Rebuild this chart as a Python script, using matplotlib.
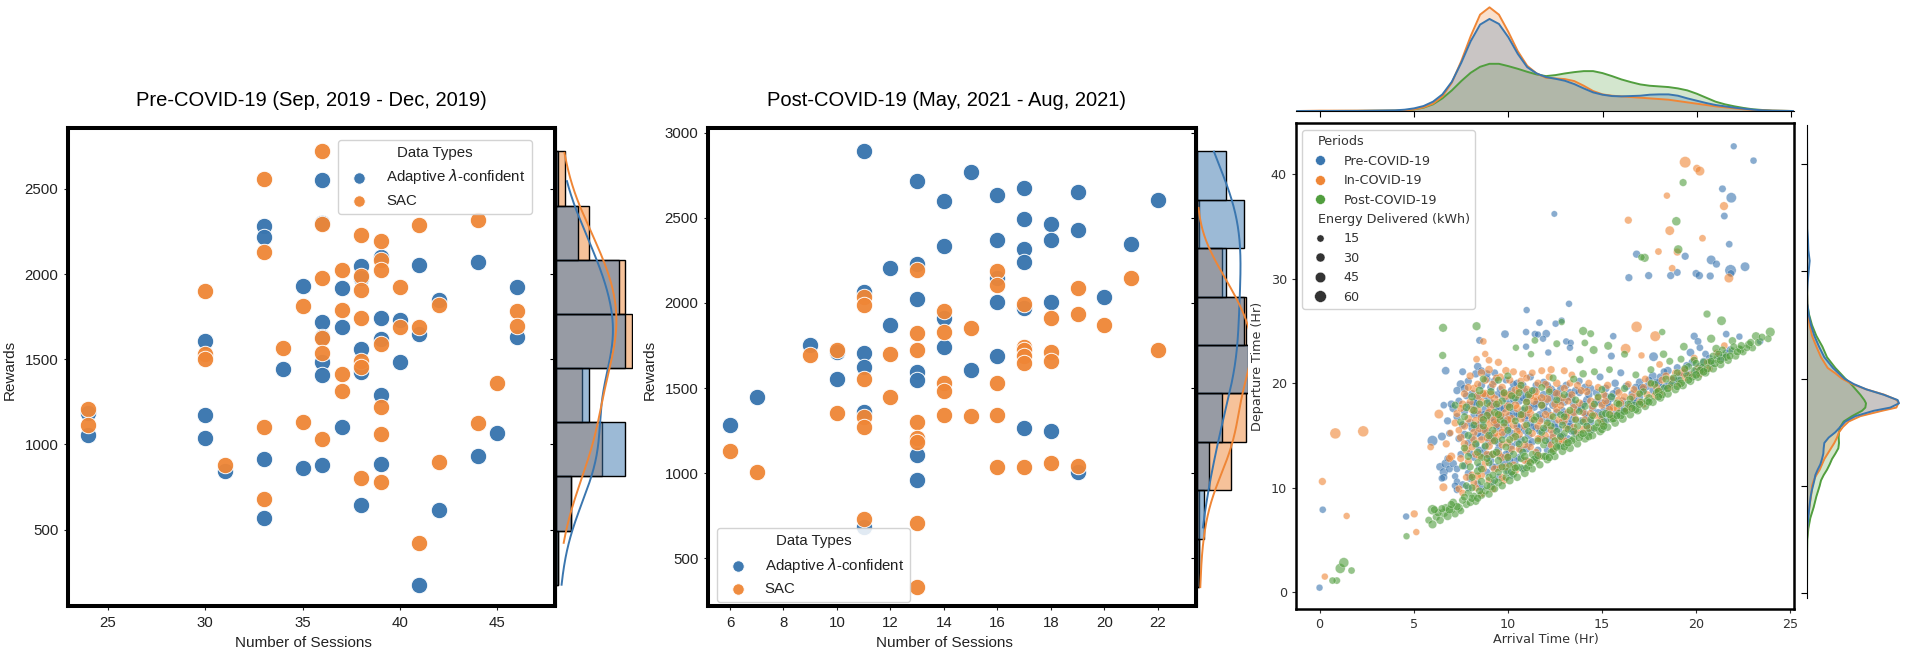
import numpy as np
import matplotlib
matplotlib.use("Agg")
import matplotlib.pyplot as plt
from matplotlib.lines import Line2D
from matplotlib.offsetbox import VPacker
from matplotlib.colors import to_rgba

W, H = 1906, 656
BLUE, ORANGE, GREEN = "#3a76af", "#ef8636", "#519e3e"
HELV = ["Liberation Sans", "DejaVu Sans"]

# Pre-COVID-19 panel
pre_blue_x = [24, 24, 30, 30, 30, 31, 33, 33, 33, 33, 34, 35, 35, 36, 36, 36, 36, 36, 36, 36, 37, 37, 37,
              38, 38, 38, 38, 38, 39, 39, 39, 39, 39, 40, 40, 41, 41, 41, 42, 42, 44, 44, 45, 46, 46]
pre_blue_y = [1182, 1054, 1606, 1172, 1039, 846, 2285, 2218, 916, 567, 1445, 1928, 862, 2554, 2300, 1718, 1628, 1483, 1405, 880, 1921, 1687, 1101,
              2046, 1975, 1561, 1427, 647, 2098, 1745, 1617, 1293, 884, 1729, 1481, 2053, 1651, 176, 1847, 616, 2071, 934, 1065, 1923, 1631]
pre_orange_x = [24, 24, 30, 30, 30, 31, 33, 33, 33, 33, 34, 35, 35, 36, 36, 36, 36, 36, 36, 37, 37, 37, 37,
                38, 38, 38, 38, 38, 38, 38, 39, 39, 39, 39, 39, 39, 39, 40, 40, 41, 41, 41, 42, 42, 44, 44, 45, 46, 46]
pre_orange_y = [1206, 1115, 1903, 1528, 1503, 880, 2556, 2127, 1105, 681, 1568, 1814, 1130, 2721, 2294, 1975, 1622, 1537, 1030, 2026, 1792, 1412, 1316,
                2230, 1986, 1908, 1745, 1488, 1454, 801, 2192, 2082, 2024, 1590, 1222, 1059, 779, 1923, 1689, 2290, 1691, 422, 1818, 898, 2319, 1126, 1360, 1783, 1698]
pre_hist_blue = [1, 7, 32, 15, 32, 29, 10, 1]
pre_hist_orange = [1, 7, 21, 12, 35, 32, 15, 4]

# Post-COVID-19 panel
post_blue_x = [6, 7, 9, 10, 10, 11, 11, 11, 11, 11, 11, 12, 12, 13, 13, 13, 13, 13, 13, 13, 14, 14, 14, 14,
               15, 15, 16, 16, 16, 16, 16, 17, 17, 17, 17, 17, 17, 18, 18, 18, 18, 19, 19, 19, 20, 21, 22]
post_blue_y = [1284, 1448, 1752, 1554, 1714, 2892, 2065, 1707, 1626, 1360, 680, 2203, 1872, 2716, 2232, 2023, 1597, 1545, 1104, 959, 2601, 2338, 1912, 1743,
               2768, 1608, 2637, 2372, 2149, 2007, 1691, 2676, 2491, 2320, 2243, 1973, 1266, 2462, 2372, 2005, 1250, 2651, 2430, 1005, 2036, 2347, 2606]
post_orange_x = [6, 7, 9, 10, 10, 11, 11, 11, 11, 11, 11, 12, 12, 13, 13, 13, 13, 13, 13, 13, 13, 14, 14, 14, 14, 14,
                 15, 15, 16, 16, 16, 16, 16, 17, 17, 17, 17, 17, 17, 18, 18, 18, 18, 19, 19, 19, 20, 21, 22]
post_orange_y = [1131, 1005, 1694, 1721, 1354, 2036, 1991, 1550, 1327, 1273, 730, 1700, 1446, 2191, 1822, 1721, 1302, 1207, 1180, 705, 329, 1950, 1831, 1529, 1484, 1340,
                 1851, 1333, 2187, 2104, 1527, 1340, 1036, 1995, 1743, 1721, 1691, 1646, 1034, 1914, 1709, 1660, 1059, 2090, 1935, 1041, 1872, 2149, 1723]
post_hist_blue = [1, 3, 5, 10, 22, 19, 12, 19, 12]
post_hist_orange = [1, 1, 14, 20, 21, 20, 10, 1, 0]

# Charging sessions: (arrival hr, departure hr, energy kWh), estimated by eye
sessions_pre = [
    (0.0, 0.44, 8), (0.17, 7.9, 9), (4.6, 7.25, 8), (12.47, 36.2, 5), (22.0, 42.67, 7), (23.05, 41.3, 9), (21.4, 38.6, 12),
    (21.87, 37.75, 38), (21.5, 36.0, 11), (21.76, 33.3, 10), (16.84, 32.35, 15), (19.42, 32.15, 14), (20.8, 31.8, 28),
    (21.08, 31.4, 14), (22.6, 31.15, 28), (21.83, 30.8, 50), (16.43, 30.1, 14), (17.48, 30.3, 14), (18.65, 30.3, 14),
    (19.0, 30.6, 12), (20.0, 30.5, 14), (20.17, 30.3, 16), (20.75, 30.26, 14), (21.85, 30.5, 12),
    (11.0, 27.0, 8), (13.25, 27.6, 8), (11.68, 25.8, 10), (12.54, 25.7, 9), (12.86, 26.0, 7), (8.5, 24.1, 12), (9.85, 24.7, 18),
    (10.97, 24.9, 9), (11.44, 24.7, 10), (11.6, 24.66, 8), (12.04, 24.74, 18), (11.87, 24.26, 8), (13.1, 24.0, 8), (13.34, 23.86, 8),
    (13.3, 23.4, 8), (10.97, 23.5, 8), (12.15, 22.94, 8), (15.6, 24.5, 9), (15.5, 22.6, 12), (17.74, 22.54, 28), (19.9, 24.5, 14),
    (20.1, 24.0, 12), (21.6, 24.7, 10), (22.3, 24.46, 8), (21.8, 23.2, 12), (20.2, 23.4, 10), (19.7, 22.94, 18), (23.4, 24.0, 8), (20.5, 22.8, 10),
    (6.0, 14.5, 40), (6.5, 14.9, 20), (6.4, 12.0, 18), (6.6, 11.5, 22), (6.7, 12.3, 25), (6.6, 11.0, 14), (6.5, 10.9, 10), (6.9, 11.8, 12),
    (6.8, 12.8, 9), (7.1, 12.3, 16), (7.3, 11.8, 10), (7.2, 11.1, 8), (7.3, 10.6, 8), (7.2, 10.2, 10), (7.6, 10.3, 12), (7.9, 10.0, 12),
    (8.0, 10.9, 14), (8.4, 10.4, 9), (6.6, 17.9, 10), (6.8, 16.4, 14), (6.9, 15.2, 10), (7.1, 17.6, 18), (7.3, 16.8, 14), (7.4, 18.3, 12),
    (7.0, 18.0, 16), (7.5, 19.9, 22), (7.3, 19.3, 15), (7.7, 19.5, 18), (7.9, 20.2, 14), (8.3, 20.9, 16), (8.4, 21.6, 16), (8.6, 21.2, 12),
    (7.6, 21.1, 12), (6.7, 21.2, 18), (8.1, 19.0, 14), (8.4, 18.6, 20), (8.6, 19.8, 15), (8.9, 20.4, 12), (9.1, 19.6, 15), (9.3, 20.2, 18),
    (9.0, 18.3, 18), (9.4, 18.9, 12), (8.8, 17.5, 20), (8.2, 17.0, 12), (8.6, 16.2, 18), (9.1, 16.7, 14), (9.6, 17.5, 22), (9.9, 18.5, 14),
    (10.2, 19.3, 16), (10.5, 20.0, 14), (10.9, 19.2, 18), (11.2, 20.6, 12), (11.5, 19.8, 12), (11.9, 18.9, 18), (12.3, 19.4, 20), (12.7, 18.9, 18),
    (13.1, 19.8, 14), (13.4, 18.6, 15), (13.8, 19.1, 12), (14.2, 18.4, 18), (14.4, 19.5, 14), (14.9, 20.6, 12), (15.2, 18.8, 10), (15.7, 20.0, 16),
    (16.0, 21.0, 12), (15.1, 17.4, 12), (15.7, 17.1, 10), (16.1, 18.3, 14), (16.6, 19.0, 12), (17.0, 20.1, 16), (17.4, 19.7, 14), (17.7, 20.7, 18),
    (18.1, 20.6, 14), (18.5, 21.2, 18), (19.0, 21.5, 12), (18.2, 19.6, 12), (18.8, 20.3, 16), (19.4, 21.0, 14), (19.8, 22.0, 16), (20.2, 21.6, 14),
    (20.7, 22.4, 12), (21.2, 22.6, 14), (21.6, 22.9, 12), (8.9, 15.4, 12), (9.2, 14.8, 18), (9.5, 15.7, 14), (9.9, 16.3, 20), (10.2, 15.2, 18),
    (10.4, 16.8, 16), (10.8, 17.4, 14), (10.5, 14.3, 12), (10.9, 15.5, 18), (11.2, 16.2, 12), (11.4, 17.7, 14), (11.8, 16.6, 16), (12.1, 17.3, 18),
    (12.5, 16.2, 14), (12.9, 17.4, 12), (13.2, 16.1, 16), (13.5, 17.0, 12), (13.9, 16.4, 14), (14.2, 16.8, 16), (8.3, 14.1, 14), (8.7, 13.3, 16),
    (9.1, 12.6, 12), (9.5, 13.7, 14), (9.8, 12.4, 18), (10.1, 13.4, 14), (10.6, 12.9, 12), (8.5, 12.0, 14), (8.2, 12.9, 12), (11.1, 14.2, 14),
    (11.6, 13.6, 12), (12.2, 14.6, 14), (12.8, 15.0, 12), (13.4, 15.4, 14), (8.1, 15.7, 14), (7.9, 14.3, 12), (8.0, 13.3, 10),
    (7.4, 14.7, 12), (7.6, 16.0, 16), (7.7, 17.3, 14), (7.8, 18.8, 12), (7.5, 13.2, 10), (7.7, 12.1, 14), (7.9, 11.4, 12), (8.1, 14.8, 14), (8.3, 15.9, 16),
    (8.3, 17.9, 18), (8.5, 13.6, 12), (8.6, 14.9, 18), (8.7, 17.0, 14), (8.8, 18.8, 12), (8.9, 20.9, 14), (8.9, 11.5, 10), (9.0, 13.1, 16), (9.1, 15.0, 14),
    (9.2, 18.0, 22), (9.3, 16.3, 18), (9.3, 21.0, 12), (9.4, 12.0, 12), (9.5, 14.3, 16), (9.6, 19.4, 14), (9.7, 16.8, 12), (9.8, 15.1, 18), (9.9, 20.3, 10),
    (9.9, 13.2, 14), (10.0, 11.6, 10), (10.1, 18.0, 16), (10.2, 14.0, 12), (10.3, 17.2, 20), (10.3, 19.9, 14), (10.4, 12.6, 14), (10.6, 18.3, 18), (10.6, 15.7, 16),
    (10.7, 13.6, 14), (10.8, 19.8, 14), (10.9, 16.6, 12), (11.0, 12.6, 10), (11.0, 18.6, 20), (11.1, 15.0, 18), (11.2, 17.8, 16), (11.3, 14.4, 14), (11.4, 19.3, 18),
    (11.5, 15.7, 12), (11.6, 18.3, 18), (11.7, 17.0, 14), (11.8, 14.7, 12), (11.9, 20.1, 12), (12.0, 15.6, 16), (12.0, 18.2, 18), (12.2, 16.6, 14), (12.3, 18.6, 20),
    (12.4, 15.2, 12), (12.5, 19.1, 16), (12.6, 17.2, 14), (12.7, 15.6, 14), (12.8, 19.5, 12), (12.9, 16.3, 12), (13.0, 18.2, 16), (13.1, 17.0, 14), (13.2, 14.7, 12),
    (13.3, 19.1, 16), (13.4, 16.5, 14), (13.5, 18.0, 18), (13.6, 15.2, 10), (13.7, 17.5, 14), (13.8, 20.2, 10), (14.0, 18.0, 16), (14.1, 17.1, 14), (14.2, 15.9, 12),
    (14.3, 18.9, 16), (14.5, 17.6, 16), (14.7, 19.1, 14), (14.8, 17.2, 12), (15.0, 18.1, 18), (15.2, 19.5, 16), (15.4, 17.7, 12), (15.5, 18.6, 20), (15.8, 19.3, 14),
    (16.0, 17.3, 12), (16.3, 19.7, 18), (16.5, 18.0, 12), (16.8, 19.6, 16), (17.0, 18.7, 14), (17.2, 19.4, 20), (17.5, 20.3, 14), (17.7, 19.3, 12), (18.0, 20.0, 16),
    (18.3, 21.1, 12), (18.6, 19.9, 12), (19.1, 20.7, 14), (19.5, 21.7, 12), (20.0, 21.2, 14), (20.4, 22.1, 12), (20.8, 21.9, 12), (21.4, 22.4, 14), (7.3, 9.8, 10),
    (8.6, 10.0, 10), (9.2, 10.5, 12), (9.5, 11.0, 10), (10.2, 11.2, 12), (10.8, 11.8, 10), (11.5, 12.9, 12), (12.1, 13.6, 12), (12.8, 14.0, 12), (14.4, 15.5, 12),
    (15.2, 16.4, 12), (16.8, 18.1, 12),
    (7.7, 15.1, 16), (7.9, 17.9, 14), (8.0, 16.2, 18), (8.2, 18.2, 16), (8.4, 15.2, 12), (8.5, 17.0, 18), (8.7, 15.6, 16), (8.8, 13.9, 14), (9.0, 14.4, 16), (9.0, 17.1, 18),
    (9.2, 12.0, 14), (9.4, 17.7, 16), (9.4, 15.9, 14), (9.6, 13.0, 14), (9.7, 18.9, 18), (9.8, 17.6, 18), (10.0, 15.7, 16), (10.1, 16.9, 14), (10.1, 12.6, 16), (10.3, 18.5, 18),
    (10.5, 15.9, 14), (10.6, 17.0, 18), (10.7, 14.6, 16), (10.8, 18.6, 14), (11.0, 13.7, 14), (11.0, 16.9, 16), (11.2, 19.0, 14), (11.3, 15.8, 18), (11.5, 18.0, 14), (11.7, 15.4, 14),
    (11.9, 17.6, 18), (12.1, 19.8, 14), (12.2, 14.2, 12), (12.4, 17.9, 18), (12.5, 15.8, 16), (12.7, 18.3, 18), (12.9, 14.9, 12), (13.0, 17.0, 14), (13.2, 18.7, 16), (13.3, 15.9, 14),
    (13.6, 19.3, 16), (13.9, 17.6, 14), (14.1, 19.6, 16), (14.4, 16.3, 14), (14.7, 18.2, 16), (15.0, 16.8, 12), (15.3, 18.1, 18), (15.6, 19.0, 14), (16.2, 17.6, 14), (16.7, 18.4, 12),
    (17.1, 19.6, 14), (17.9, 20.1, 16), (18.4, 19.7, 12), (19.0, 20.2, 12), (19.6, 20.9, 14), (20.3, 21.5, 12),
]
sessions_in = [
    (19.42, 41.15, 50), (20.04, 40.55, 16), (20.2, 40.3, 30), (18.45, 37.95, 8), (21.48, 36.95, 22), (16.4, 35.6, 14), (20.34, 33.87, 10),
    (18.6, 34.6, 28), (18.0, 32.6, 10), (19.0, 32.55, 14), (18.73, 31.0, 10), (21.74, 30.06, 28), (0.84, 15.2, 45), (2.32, 15.4, 45),
    (0.15, 10.6, 14), (1.44, 7.3, 8), (0.28, 1.5, 8), (5.03, 7.5, 14), (5.14, 5.76, 8), (8.7, 24.0, 10), (8.8, 22.8, 8), (8.34, 22.3, 10),
    (16.84, 25.4, 45), (17.83, 24.5, 40), (16.26, 23.3, 38), (17.1, 22.66, 8), (21.5, 23.6, 10), (18.06, 21.8, 10), (6.34, 17.05, 28),
    (5.9, 13.9, 10), (6.73, 14.2, 14), (6.58, 10.05, 20), (6.95, 15.25, 8), (7.0, 13.0, 18), (6.9, 12.8, 14), (7.4, 9.9, 12), (7.6, 9.5, 10),
    (7.3, 17.1, 14), (7.7, 15.9, 16), (7.5, 14.8, 18), (7.8, 13.6, 20), (7.9, 12.5, 14), (8.1, 11.2, 16), (8.3, 10.0, 12), (8.6, 9.4, 10), (9.2, 9.9, 14),
    (8.0, 20.7, 14), (8.6, 21.0, 16), (9.0, 21.3, 18), (9.5, 22.0, 14), (9.0, 22.2, 10), (9.9, 21.2, 16), (10.3, 21.1, 12), (10.8, 20.9, 14),
    (11.3, 21.0, 10), (11.8, 21.2, 12), (12.3, 21.3, 14), (13.0, 21.2, 12), (13.4, 20.8, 10), (8.2, 19.5, 16), (8.8, 19.0, 18), (9.3, 18.5, 20),
    (9.7, 19.6, 16), (10.1, 20.3, 14), (10.5, 18.9, 18), (11.0, 18.2, 16), (11.5, 18.7, 14), (12.0, 19.9, 14), (12.6, 20.0, 16), (13.2, 18.3, 12),
    (13.7, 19.8, 14), (14.3, 20.0, 12), (14.8, 18.6, 12), (15.3, 19.8, 14), (15.9, 19.1, 14), (16.4, 19.9, 10), (16.9, 19.0, 12), (17.3, 20.4, 12),
    (17.9, 19.6, 14), (18.4, 20.7, 14), (18.9, 21.0, 10), (19.4, 20.5, 12), (19.9, 22.4, 12), (20.4, 21.3, 12), (15.6, 17.7, 14), (16.3, 17.5, 10),
    (14.4, 17.1, 16), (14.9, 16.6, 12), (8.4, 17.4, 20), (8.9, 16.6, 16), (9.4, 16.1, 22), (9.9, 17.2, 18), (10.3, 16.0, 20), (10.7, 16.6, 18),
    (11.2, 17.1, 18), (11.6, 15.9, 14), (12.1, 16.0, 16), (12.6, 17.5, 14), (13.0, 16.4, 12), (13.5, 15.8, 12), (14.0, 15.6, 14), (8.2, 15.3, 16),
    (8.6, 14.6, 14), (9.0, 14.0, 18), (9.5, 14.9, 14), (10.0, 14.3, 14), (10.6, 15.1, 16), (11.2, 13.9, 12), (11.7, 14.7, 14), (12.4, 13.7, 10),
    (12.9, 14.4, 12), (8.3, 13.2, 14), (8.8, 12.4, 16), (9.3, 11.8, 16), (9.7, 12.9, 14), (10.3, 12.2, 10), (10.9, 12.6, 12), (8.6, 11.2, 14),
    (9.0, 10.7, 12), (9.7, 11.0, 12), (13.5, 17.7, 12), (17.2, 18.0, 12), (18.1, 19.0, 10), (19.1, 19.9, 10), (20.7, 21.4, 10),
    (7.2, 16.2, 14), (7.4, 15.5, 10), (7.5, 12.8, 14), (7.6, 18.0, 16), (7.7, 19.0, 14), (7.8, 11.0, 12), (7.9, 16.6, 18), (8.0, 18.2, 14), (8.1, 13.9, 14),
    (8.2, 10.5, 12), (8.3, 16.4, 20), (8.4, 19.9, 14), (8.5, 15.7, 22), (8.5, 13.0, 14), (8.6, 18.2, 20), (8.7, 11.8, 12), (8.8, 20.3, 16), (8.9, 14.8, 16),
    (9.0, 16.0, 20), (9.1, 17.8, 24), (9.2, 19.9, 16), (9.2, 13.2, 14), (9.3, 15.2, 18), (9.4, 17.0, 22), (9.5, 18.1, 20), (9.6, 11.9, 12), (9.6, 20.6, 14),
    (9.7, 14.1, 14), (9.8, 15.8, 18), (9.9, 18.8, 22), (10.0, 13.0, 12), (10.0, 17.8, 20), (10.2, 16.6, 18), (10.3, 14.8, 14), (10.4, 19.3, 20), (10.5, 17.6, 18),
    (10.6, 13.7, 14), (10.7, 20.2, 14), (10.9, 15.9, 16), (11.0, 19.4, 18), (11.1, 17.5, 20), (11.3, 15.2, 14), (11.4, 18.3, 20), (11.5, 13.4, 12), (11.6, 20.0, 14),
    (11.7, 16.4, 16), (11.8, 17.9, 18), (12.0, 15.0, 12), (12.1, 18.5, 20), (12.2, 20.6, 12), (12.3, 16.9, 16), (12.4, 14.9, 12), (12.6, 19.0, 18), (12.7, 16.5, 14),
    (12.8, 17.9, 16), (13.0, 19.5, 14), (13.1, 15.7, 12), (13.2, 17.2, 14), (13.4, 18.9, 14), (13.6, 16.6, 12), (13.8, 18.1, 16), (14.0, 17.2, 12), (14.2, 19.2, 14),
    (14.4, 18.3, 14), (14.6, 16.9, 14), (14.8, 19.6, 12), (15.0, 17.9, 14), (15.2, 18.3, 16), (15.5, 16.9, 16), (15.8, 17.6, 14), (15.9, 18.4, 18), (16.2, 18.7, 14),
    (16.5, 17.7, 18), (16.7, 19.4, 12), (17.0, 18.2, 12), (17.4, 18.9, 14), (17.6, 19.9, 12), (18.0, 19.3, 14), (18.2, 20.3, 14), (18.7, 20.4, 10), (19.2, 21.0, 12),
    (19.7, 20.8, 12), (20.1, 21.4, 12), (20.6, 22.0, 10), (21.1, 22.9, 10), (9.8, 10.7, 12), (10.4, 11.6, 12), (11.1, 12.5, 14), (11.7, 13.0, 12), (12.3, 14.1, 14),
    (13.0, 14.5, 14), (13.7, 15.3, 12), (14.3, 15.7, 12), (15.0, 16.1, 12),
    (7.5, 17.6, 14), (7.7, 14.2, 16), (7.9, 19.6, 14), (8.1, 17.5, 18), (8.2, 14.6, 16), (8.4, 18.8, 18), (8.4, 11.1, 14), (8.6, 16.7, 20), (8.7, 19.0, 14), (8.8, 15.5, 18),
    (8.9, 13.2, 14), (9.0, 17.2, 20), (9.1, 18.9, 22), (9.2, 14.5, 14), (9.3, 16.5, 22), (9.4, 20.5, 14), (9.5, 13.3, 14), (9.6, 16.9, 20), (9.7, 15.3, 18), (9.8, 19.0, 20),
    (9.9, 12.0, 14), (10.0, 16.5, 18), (10.1, 18.9, 16), (10.2, 13.7, 14), (10.4, 17.9, 20), (10.5, 15.4, 16), (10.6, 19.5, 18), (10.8, 17.0, 18), (10.9, 14.1, 14), (11.0, 20.5, 12),
    (11.2, 18.8, 18), (11.3, 16.6, 14), (11.5, 19.2, 16), (11.6, 14.7, 12), (11.8, 18.6, 18), (12.0, 17.0, 16), (12.2, 19.4, 14), (12.3, 15.5, 12), (12.5, 18.0, 16), (12.7, 14.5, 14),
    (12.9, 18.6, 16), (13.1, 16.8, 14), (13.3, 20.0, 12), (13.5, 17.2, 14), (13.9, 19.3, 14), (14.1, 16.5, 14), (14.5, 17.8, 14), (15.1, 18.9, 12), (15.4, 17.5, 14), (16.0, 18.1, 14),
    (16.6, 18.7, 14), (17.2, 19.6, 12), (17.8, 18.8, 14), (18.6, 19.6, 12), (19.4, 21.3, 12), (20.2, 20.9, 12),
]
sessions_post = [
    (19.31, 39.2, 14), (18.95, 35.5, 25), (19.05, 32.8, 25), (17.27, 32.0, 22), (17.1, 32.05, 10), (4.62, 5.36, 8), (0.92, 1.12, 10), (0.69, 1.12, 10),
    (1.1, 2.28, 35), (1.29, 2.84, 35), (1.7, 2.08, 10), (6.56, 25.3, 22), (8.34, 25.46, 22), (6.54, 22.66, 14), (10.43, 23.4, 8), (11.44, 24.1, 10),
    (12.86, 25.86, 8), (12.6, 23.78, 12), (14.0, 25.0, 22), (14.4, 24.74, 12), (14.09, 23.86, 10), (14.56, 23.18, 20), (15.33, 23.58, 20),
    (20.58, 26.62, 14), (21.35, 25.98, 28), (18.2, 24.9, 8), (18.27, 22.78, 16), (20.8, 24.26, 22), (19.35, 23.5, 18), (21.07, 23.3, 20),
    (21.93, 24.06, 16), (23.18, 24.5, 22), (23.94, 24.9, 30), (23.83, 24.26, 12), (22.8, 23.7, 18), (23.0, 23.38, 12), (13.83, 22.26, 16),
    (16.2, 22.78, 12), (11.23, 22.78, 8), (6.0, 7.9, 35), (22.37, 23.2, 14),
    (5.8, 6.9, 12), (6.0, 6.5, 22), (6.2, 7.2, 14), (6.4, 6.9, 18), (6.6, 7.6, 25), (6.8, 7.3, 24), (7.0, 7.9, 18), (7.2, 7.5, 14), (7.4, 8.1, 20), (7.5, 7.8, 12),
    (7.8, 8.4, 14), (8.0, 8.6, 16), (8.2, 9.2, 12), (8.3, 8.7, 14), (8.6, 9.3, 18), (8.8, 9.7, 14), (9.0, 9.4, 16), (9.1, 10.1, 20), (9.3, 9.9, 14), (9.5, 10.5, 18),
    (9.7, 10.2, 16), (9.9, 11.0, 14), (10.1, 10.7, 20), (10.3, 11.3, 14), (10.5, 11.0, 16), (10.7, 11.9, 14), (10.9, 11.4, 20), (11.1, 12.1, 14), (11.3, 11.8, 14),
    (11.5, 12.6, 18), (11.7, 12.2, 16), (11.9, 13.0, 14), (12.1, 12.7, 18), (12.3, 13.4, 14), (12.5, 13.0, 16), (12.7, 14.0, 14), (12.9, 13.5, 18), (13.1, 14.2, 16),
    (13.3, 13.8, 20), (13.5, 14.7, 14), (13.7, 14.2, 16), (13.9, 15.1, 14), (14.1, 14.7, 20), (14.3, 15.3, 14), (14.5, 15.0, 16), (14.7, 15.8, 14), (14.9, 15.4, 20),
    (15.1, 16.3, 18), (15.3, 15.8, 16), (15.5, 16.6, 22), (15.7, 16.2, 18), (15.9, 17.1, 16), (16.1, 16.6, 22), (16.3, 17.4, 16), (16.5, 17.0, 18), (16.7, 17.9, 14),
    (16.9, 17.4, 20), (17.1, 18.2, 14), (17.3, 17.8, 18), (17.5, 18.6, 16), (17.7, 18.2, 20), (17.9, 19.1, 14), (18.1, 18.6, 18), (18.3, 19.5, 16), (18.5, 19.0, 20),
    (18.7, 19.9, 14), (18.9, 19.4, 18), (19.1, 20.3, 16), (19.3, 19.8, 20), (19.5, 20.8, 14), (19.7, 20.2, 18), (19.9, 21.2, 16), (20.1, 20.6, 20), (20.3, 21.5, 16),
    (20.5, 21.0, 18), (20.7, 22.0, 14), (20.9, 21.4, 20), (21.1, 22.3, 16), (21.3, 21.8, 18), (21.5, 22.7, 14), (21.7, 22.2, 16), (21.9, 23.1, 14), (22.1, 22.6, 14),
    (22.3, 23.3, 12), (22.5, 23.0, 12), (19.9, 22.2, 14), (20.4, 22.0, 16), (19.0, 21.0, 14), (18.4, 20.4, 16), (17.8, 19.9, 14), (19.6, 21.6, 12), (20.9, 22.6, 12),
    (21.4, 23.2, 12), (17.2, 19.2, 12), (16.5, 18.5, 14), (15.8, 18.1, 14), (15.0, 17.0, 14), (14.4, 16.5, 12), (13.7, 15.9, 14), (13.0, 15.2, 12), (12.5, 14.5, 14),
    (11.9, 14.1, 12), (11.3, 13.2, 14), (10.7, 12.8, 14), (10.1, 12.1, 14), (9.5, 11.5, 14), (9.0, 11.0, 14),
    (7.2, 17.9, 14), (7.5, 16.3, 14), (7.8, 17.7, 20), (7.9, 15.0, 16), (7.7, 13.8, 14), (8.0, 12.0, 14), (8.4, 11.6, 16), (8.1, 18.7, 18), (8.5, 19.3, 20), (8.9, 18.1, 18),
    (9.3, 17.2, 16), (8.7, 15.9, 14), (9.2, 15.5, 16), (9.7, 18.3, 16), (10.1, 17.7, 18), (10.4, 18.6, 14), (9.5, 20.3, 14), (10.0, 20.7, 14), (10.7, 19.8, 14), (11.1, 18.9, 16),
    (11.5, 16.8, 14), (11.0, 16.0, 14), (10.4, 14.9, 16), (9.9, 13.9, 14), (9.2, 13.2, 16), (8.6, 12.9, 14), (10.9, 14.6, 12), (11.8, 15.3, 12), (12.3, 15.9, 14), (12.9, 16.0, 14),
    (13.3, 17.4, 14), (12.6, 18.4, 14), (13.0, 18.9, 14), (13.6, 18.4, 14), (14.1, 17.8, 16), (14.6, 18.0, 14), (15.0, 19.4, 14), (15.5, 18.7, 16), (16.2, 19.5, 14), (11.8, 19.6, 12),
    (12.4, 20.5, 14), (13.5, 20.4, 14), (14.0, 20.9, 16), (14.6, 21.1, 12), (15.4, 21.3, 10), (16.8, 20.8, 12), (17.6, 21.3, 12), (18.6, 22.1, 12), (19.2, 22.3, 12),
    (7.6, 12.1, 14), (7.8, 10.2, 12), (7.9, 9.5, 14), (8.1, 10.0, 14), (8.2, 16.0, 14), (8.3, 14.2, 16), (8.4, 12.4, 14), (8.5, 18.0, 16), (8.6, 10.6, 16), (8.7, 20.4, 14),
    (8.8, 14.0, 14), (8.9, 16.9, 18), (9.0, 12.4, 14), (9.1, 19.2, 16), (9.3, 10.7, 14), (9.3, 14.5, 16), (9.4, 18.0, 14), (9.5, 12.6, 16), (9.6, 16.5, 14), (9.7, 14.6, 12),
    (9.8, 19.1, 14), (9.9, 11.6, 14), (10.0, 15.5, 14), (10.2, 11.5, 16), (10.3, 13.2, 14), (10.4, 16.4, 12), (10.5, 12.0, 14), (10.6, 19.1, 14), (10.8, 13.4, 16), (10.9, 17.6, 14),
    (11.0, 11.9, 14), (11.1, 15.4, 12), (11.3, 19.3, 12), (11.4, 12.7, 18), (11.6, 14.5, 14), (11.8, 17.9, 14), (12.0, 13.0, 16), (12.1, 16.2, 14), (12.2, 19.2, 12), (12.4, 13.5, 18),
    (12.6, 15.4, 14), (12.8, 17.0, 12), (13.0, 13.9, 16), (13.2, 15.6, 14), (13.4, 14.5, 16), (13.6, 16.5, 12), (13.8, 14.8, 18), (14.0, 16.3, 14), (14.3, 14.9, 18), (14.6, 15.7, 16),
    (14.8, 18.7, 12), (15.0, 15.6, 20), (15.2, 17.1, 16), (15.6, 16.6, 18), (15.9, 18.0, 14), (16.0, 16.9, 20), (16.4, 18.0, 16), (16.8, 17.5, 18), (17.0, 19.0, 12), (17.4, 18.3, 18),
    (17.6, 20.0, 12), (18.0, 19.2, 20), (18.2, 18.9, 16), (18.8, 20.5, 14), (19.2, 20.0, 20), (19.4, 21.4, 14), (19.8, 20.6, 18), (20.0, 21.9, 14), (20.2, 21.2, 20), (20.6, 21.4, 18),
    (21.0, 21.9, 20), (21.2, 22.8, 14), (21.6, 22.5, 18), (22.0, 23.5, 12), (22.2, 23.0, 16), (22.7, 23.4, 12), (22.9, 23.9, 14), (23.3, 23.9, 14), (23.5, 24.4, 14), (6.7, 8.1, 14),
    (7.1, 8.6, 16), (7.3, 8.2, 18), (7.6, 8.8, 14), (8.1, 9.0, 18), (8.5, 9.7, 14), (8.9, 10.2, 14), (6.3, 7.6, 16), (6.9, 7.9, 20), (6.1, 7.9, 14),
    (7.7, 16.8, 14), (7.9, 13.0, 16), (8.1, 11.0, 14), (8.2, 17.4, 18), (8.4, 13.4, 16), (8.6, 11.8, 14), (8.7, 16.5, 18), (8.9, 12.8, 14), (9.0, 15.0, 18), (9.2, 11.2, 14),
    (9.4, 13.4, 16), (9.5, 17.0, 16), (9.7, 12.0, 14), (9.8, 16.2, 16), (10.0, 12.9, 16), (10.1, 14.6, 14), (10.2, 18.8, 14), (10.4, 11.9, 14), (10.6, 14.2, 14), (10.7, 17.0, 14),
    (10.9, 13.0, 18), (11.0, 18.2, 14), (11.2, 12.4, 16), (11.4, 16.5, 14), (11.6, 13.1, 18), (11.9, 15.7, 14), (12.0, 14.5, 14), (12.2, 12.9, 18), (12.4, 16.8, 12), (12.6, 13.9, 18),
    (12.8, 14.9, 14), (13.0, 16.8, 12), (13.2, 14.3, 18), (13.5, 15.4, 14), (13.8, 17.3, 12), (14.0, 15.2, 18), (14.2, 15.9, 14), (14.5, 16.9, 12), (14.8, 16.2, 16), (15.1, 15.9, 18),
    (15.4, 17.0, 16), (15.8, 16.9, 16), (16.2, 17.3, 18), (16.6, 17.6, 16), (17.0, 18.0, 18), (17.5, 18.2, 16), (18.0, 18.7, 16), (18.5, 19.5, 18), (19.0, 19.7, 18), (19.6, 20.3, 16),
    (20.0, 20.8, 20), (20.4, 21.1, 20), (20.8, 22.1, 14), (21.3, 22.2, 18), (21.8, 22.6, 16), (22.4, 23.6, 14), (7.0, 8.4, 16), (7.7, 9.1, 14), (8.4, 9.0, 16), (6.5, 8.0, 14),
]

# Marginal KDE curves of the right panel (heights in arbitrary units)
arrival_grid = [-1.2, 0, 2, 4, 4.5, 5, 5.5, 6, 6.5, 7, 7.5, 8, 8.5, 9, 9.5, 10, 10.5, 11, 11.5, 12, 12.5, 13, 13.5, 14, 14.5,
                15, 15.5, 16, 16.5, 17, 17.5, 18, 18.5, 19, 19.5, 20, 20.5, 21, 21.5, 22, 22.5, 23, 23.5, 24, 25.1]
arrival_pre = [0, 0, 0.3, 2, 4, 8, 15, 28, 50, 88, 145, 210, 260, 277, 262, 222, 172, 132, 113, 102, 97, 91, 81, 68, 56,
               49, 45, 44, 45, 46, 49, 50, 50, 46, 38, 31, 24, 18, 14, 10, 7, 4, 2, 1, 0]
arrival_in = [0, 1, 1, 1, 2, 5, 11, 22, 44, 85, 150, 225, 290, 312, 290, 238, 180, 136, 113, 100, 98, 96, 90, 76, 60,
              50, 46, 44, 42, 40, 38, 36, 34, 30, 26, 22, 18, 14, 11, 8, 5, 3, 2, 1, 0]
arrival_post = [0, 0, 0.3, 1, 2, 5, 10, 20, 38, 62, 90, 115, 133, 142, 142, 135, 127, 118, 110, 105, 108, 113, 117, 120, 120,
                114, 105, 95, 87, 80, 76, 74, 72, 68, 62, 52, 40, 28, 20, 14, 9, 5, 3, 1, 0]

departure_grid = [0, 4, 5, 6, 7, 8, 9, 9.5, 10, 10.5, 11, 11.5, 12, 12.5, 13, 13.5, 14, 14.5, 15, 15.5, 16, 16.5, 17,
                  17.3, 17.7, 18, 18.5, 19, 19.5, 20, 20.5, 21, 22, 23, 24, 25, 26, 27, 28, 29, 30, 31, 32, 33, 34, 44]
departure_pre = [0, 0, 0, 1, 4, 7, 11, 14, 18, 22, 25, 32, 40, 45, 49, 50, 52, 65, 85, 100, 115, 145, 200,
                 250, 276, 272, 230, 178, 140, 112, 95, 78, 52, 36, 22, 12, 5, 1, 0.5, 2, 5, 8, 4, 3, 1, 0]
departure_in = [0, 0, 0, 1, 3, 7, 12, 14, 15, 20, 28, 38, 45, 52, 62, 72, 82, 90, 96, 108, 125, 160, 225,
                268, 274, 270, 232, 178, 135, 105, 85, 62, 42, 28, 15, 8, 3, 1, 0.5, 0.5, 0.5, 0.5, 0.5, 0.5, 0.5, 0]
departure_post = [0, 0.5, 1, 4, 10, 20, 28, 33, 38, 42, 50, 60, 68, 75, 85, 94, 96, 95, 96, 100, 110, 135, 165,
                  175, 177, 172, 160, 146, 132, 115, 100, 85, 60, 46, 28, 15, 6, 1, 0.5, 0.3, 0.3, 0.3, 0.3, 0.3, 0.3, 0]


def px_axes(fig, x0, y0, x1, y1):
    # axes from pixel box, y measured from the top of the picture
    return fig.add_axes([x0 / W, 1 - y1 / H, (x1 - x0) / W, (y1 - y0) / H])


def kde_curve(values, lo, hi, scale):
    values = np.asarray(values, dtype=float)
    h = values.std(ddof=1) * len(values) ** (-0.2)
    grid = np.arange(lo, hi + 1, 10.0)
    dens = np.exp(-0.5 * ((grid[:, None] - values) / h) ** 2).sum(axis=1) / (len(values) * h * np.sqrt(2 * np.pi))
    return grid, dens * scale


def reward_panel(fig, box, xlim, ylim, xticks, hist_right, hist_xmax, bx, by, ox, oy, hist_b, hist_o,
                 legend_loc, orange_top=None):
    x0, y0, x1, y1 = box
    ax = px_axes(fig, x0, y0, x1, y1)
    side = px_axes(fig, x1 + 1, y0, hist_right, y1)

    ax.scatter(bx, by, s=140, c=BLUE, edgecolor="white", linewidth=0.7, alpha=0.97, label=r"Adaptive $\lambda$-confident")
    ax.scatter(ox, oy, s=140, c=ORANGE, edgecolor="white", linewidth=0.7, alpha=0.95, label="SAC")
    ax.set_xlim(xlim)
    ax.set_ylim(ylim)
    ax.set_xticks(xticks)
    ax.set_yticks([500, 1000, 1500, 2000, 2500] + ([3000] if ylim[1] > 3000 else []))
    ax.tick_params(length=3, width=0.8, labelsize=10.8, pad=4, colors="#222222")
    for lab in ax.get_xticklabels() + ax.get_yticklabels():
        lab.set_family(HELV)
    for s in ax.spines.values():
        s.set_linewidth(2.9)
    leg = ax.legend(title="Data Types", loc="upper left", bbox_to_anchor=legend_loc, prop={"family": HELV, "size": 10.8},
                    title_fontproperties={"family": HELV, "size": 10.8}, markerscale=0.7, borderaxespad=0, framealpha=0.85,
                    labelcolor="#222222")
    leg.get_title().set_color("#222222")

    edges = np.linspace(min(min(by), min(oy)), max(max(by), max(oy)), len(hist_b) + 1)
    width = edges[1] - edges[0]
    side.barh(edges[:-1], hist_o, height=width, align="edge", color=to_rgba(ORANGE, 0.5), edgecolor="black", linewidth=1.0)
    side.barh(edges[:-1], hist_b, height=width, align="edge", color=to_rgba(BLUE, 0.5), edgecolor="black", linewidth=1.0)
    gy, gx = kde_curve(by, min(by), max(by), sum(hist_b) * width)
    side.plot(gx, gy, color=BLUE, lw=1.4)
    gy, gx = kde_curve(oy, min(oy), orange_top or max(oy), sum(hist_o) * width)
    side.plot(gx, gy, color=ORANGE, lw=1.4)
    side.set_xlim(0, hist_xmax)
    side.set_ylim(ylim)
    side.set_yticks(ax.get_yticks())
    side.set_xticks([])
    side.tick_params(axis="y", length=4.5, width=0.8, labelleft=False)
    side.patch.set_alpha(0)
    for name in ("top", "right", "bottom"):
        side.spines[name].set_visible(False)
    side.spines["left"].set_linewidth(0.8)
    return ax


fig = plt.figure(figsize=(W / 100, H / 100), dpi=100)

reward_panel(fig, (68, 128, 555, 606), (22.95, 47.96), (51, 2858), [25, 30, 35, 40, 45], 633, 35.5,
             pre_blue_x, pre_blue_y, pre_orange_x, pre_orange_y, pre_hist_blue, pre_hist_orange, (0.555, 0.975))
reward_panel(fig, (708, 128, 1196, 606), (5.18, 23.42), (218, 3029), list(range(6, 23, 2)), 1248, 20.8,
             post_blue_x, post_blue_y, post_orange_x, post_orange_y, post_hist_blue, post_hist_orange, (0.018, 0.163), orange_top=2560)

fig.text(311 / W, 1 - 100 / H, "Pre-COVID-19 (Sep, 2019 - Dec, 2019)", family=HELV, fontsize=14.5, ha="center", va="center")
fig.text(947 / W, 1 - 100 / H, "Post-COVID-19 (May, 2021 - Aug, 2021)", family=HELV, fontsize=14.5, ha="center", va="center")
for cx in (303, 944):
    fig.text(cx / W, 1 - 643 / H, "Number of Sessions", family=HELV, fontsize=11, ha="center", va="center", color="#222222")
for cx in (10, 650):
    fig.text(cx / W, 1 - 370 / H, "Rewards", family=HELV, fontsize=11, rotation=90, ha="center", va="center", color="#222222")

# joint plot on the right
main = px_axes(fig, 1296, 123, 1794, 609)
for rows, color in ((sessions_pre, BLUE), (sessions_in, ORANGE), (sessions_post, GREEN)):
    arr = np.array(rows)
    main.scatter(arr[:, 0], arr[:, 1], s=16 + arr[:, 2], c=color, alpha=0.6, edgecolor="white", linewidth=0.3)
main.set_xlim(-1.25, 25.2)
main.set_ylim(-1.6, 44.9)
main.set_xticks([0, 5, 10, 15, 20, 25])
main.set_yticks([0, 10, 20, 30, 40])
main.tick_params(length=3, width=0.8, labelsize=9.2, colors="#333333")
for s in main.spines.values():
    s.set_linewidth(1.8)

header = Line2D([], [], linestyle="none", marker="", visible=False)
handles = [header]
labels = ["Periods"]
for name, color in (("Pre-COVID-19", BLUE), ("In-COVID-19", ORANGE), ("Post-COVID-19", GREEN)):
    handles.append(Line2D([], [], linestyle="none", marker="o", color=color, markersize=7, markeredgecolor="white", markeredgewidth=0.3))
    labels.append(name)
handles.append(header)
labels.append("Energy Delivered (kWh)")
for kwh in (15, 30, 45, 60):
    handles.append(Line2D([], [], linestyle="none", marker="o", color="#333333", markersize=np.sqrt(12 + kwh), markeredgecolor="white", markeredgewidth=0.3))
    labels.append(str(kwh))
leg = main.legend(handles, labels, loc="upper left", bbox_to_anchor=(0.013, 0.985), fontsize=9.2, borderaxespad=0, framealpha=0.85,
                  labelcolor="#333333")
for hpack in leg.findobj(VPacker)[0].get_children():
    draw_area, text_area = hpack.get_children()
    if not all(a.get_visible() for a in draw_area.get_children()):
        draw_area.set_width(0)

# seaborn draws the last hue first, so blue ends up on top
top = px_axes(fig, 1296, 5, 1794, 111)
for curve, color in ((arrival_post, GREEN), (arrival_in, ORANGE), (arrival_pre, BLUE)):
    top.fill_between(arrival_grid, curve, color=color, alpha=0.25, linewidth=0)
    top.plot(arrival_grid, curve, color=color, lw=1.4)
top.set_xlim(-1.27, 25.16)
top.set_ylim(0, 319)
top.set_xticks([0, 5, 10, 15, 20, 25])
top.set_yticks([])
top.tick_params(axis="x", length=4, width=0.8, labelbottom=False)
for name in ("top", "right", "left"):
    top.spines[name].set_visible(False)

right = px_axes(fig, 1807, 125, 1900, 598)
for curve, color in ((departure_post, GREEN), (departure_in, ORANGE), (departure_pre, BLUE)):
    right.fill_betweenx(departure_grid, curve, color=color, alpha=0.25, linewidth=0)
    right.plot(curve, departure_grid, color=color, lw=1.4)
right.set_ylim(-0.47, 43.67)
right.set_xlim(0, 279)
right.set_yticks([0, 10, 20, 30, 40])
right.set_xticks([])
right.tick_params(axis="y", length=4, width=0.8, labelleft=False)
for name in ("top", "right", "bottom"):
    right.spines[name].set_visible(False)

fig.text(1546 / W, 1 - 640 / H, "Arrival Time (Hr)", fontsize=9.2, ha="center", va="center", color="#333333")
fig.text(1258 / W, 1 - 366 / H, "Departure Time (Hr)", fontsize=9.2, rotation=90, ha="center", va="center", color="#333333")

plt.savefig("out.png", dpi=100)
